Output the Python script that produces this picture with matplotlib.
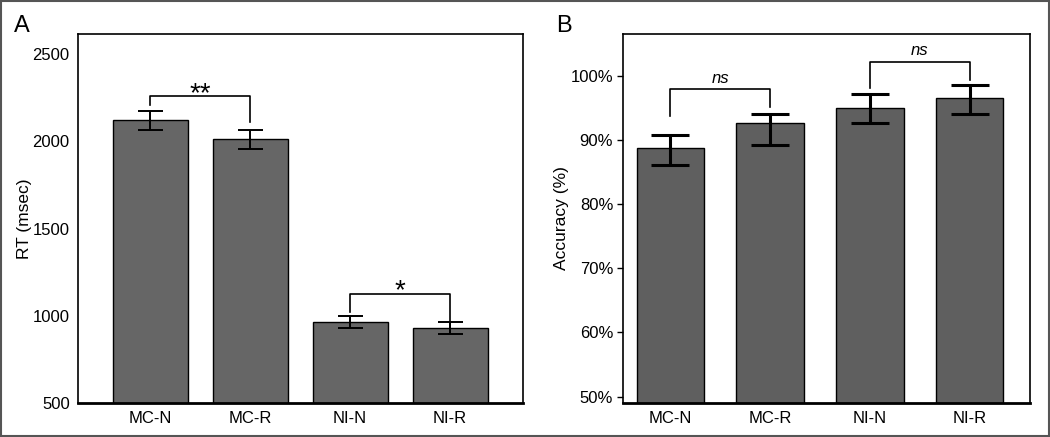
import numpy as np
import matplotlib.pyplot as plt
from matplotlib.patches import Rectangle

plt.rcParams['font.family'] = ['Liberation Sans', 'DejaVu Sans']

conds = ['MC-N', 'MC-R', 'NI-N', 'NI-R']

# panel A: reaction time
rt_mean = [2120, 2014, 962, 930]
rt_lo = [2065, 1958, 928, 895]
rt_hi = [2175, 2067, 998, 962]

# panel B: accuracy (%)
acc_mean = [88.8, 92.6, 95.0, 96.6]
acc_lo = [86.1, 89.2, 92.6, 94.1]
acc_hi = [90.8, 94.0, 97.1, 98.6]

# significance brackets: (i, j, height, left foot, right foot, label)
rt_sig = [(0, 1, 2257, 2209, 2108, '**'), (2, 3, 1126, 1019, 930, '*')]
acc_sig = [(0, 1, 97.9, 93.8, 95.1, 'ns'), (2, 3, 102.2, 98.1, 99.4, 'ns')]


def bracket(ax, sig, off, italic=False, fs=13):
    for i, j, h, yl, yr, lab in sig:
        ax.plot([i, i, j, j], [yl, h, h, yr], color='black', lw=1.2)
        ax.text((i + j) / 2, h + off, lab, ha='center', va='bottom',
                fontsize=fs, style='italic' if italic else 'normal')


fig = plt.figure(figsize=(10.5, 4.37), dpi=100)
fig.patches.append(Rectangle((0.001, 0.002), 0.998, 0.996, transform=fig.transFigure,
                             fill=False, edgecolor='#555555', lw=1.5))

x = np.arange(len(conds))

axA = fig.add_axes([0.0743, 0.0778, 0.4238, 0.8444])
axA.bar(x, rt_mean, width=0.75, color='#666666', edgecolor='black', lw=1.0, zorder=2)
yerr = [np.array(rt_mean) - np.array(rt_lo), np.array(rt_hi) - np.array(rt_mean)]
axA.errorbar(x, rt_mean, yerr=yerr, fmt='none', ecolor='black', elinewidth=1.4,
             capsize=9, capthick=1.4, zorder=3)
axA.set_xlim(-0.72, 3.73)
axA.set_ylim(507, 2615)
axA.set_yticks([500, 1000, 1500, 2000, 2500])
axA.set_xticks(x)
axA.set_xticklabels(conds)
axA.tick_params(axis='both', length=0, labelsize=12, pad=6)
axA.set_ylabel('RT (msec)', fontsize=12.5)
axA.yaxis.set_label_coords(-0.103, 0.5)
bracket(axA, rt_sig, -62, fs=20)
for s in axA.spines.values():
    s.set_linewidth(1.2)
axA.spines['bottom'].set_linewidth(2)
fig.text(0.013, 0.927, 'A', fontsize=17)

axB = fig.add_axes([0.5933, 0.0778, 0.3876, 0.8444])
axB.bar(x, acc_mean, width=0.68, color='#5f5f5f', edgecolor='black', lw=1.0, zorder=2)
yerr = [np.array(acc_mean) - np.array(acc_lo), np.array(acc_hi) - np.array(acc_mean)]
axB.errorbar(x, acc_mean, yerr=yerr, fmt='none', ecolor='black', elinewidth=2.2,
             capsize=13.5, capthick=2.2, zorder=3)
axB.set_xlim(-0.476, 3.606)
axB.set_ylim(49, 106.5)
axB.set_yticks([50, 60, 70, 80, 90, 100])
axB.set_yticklabels(['50%', '60%', '70%', '80%', '90%', '100%'])
axB.set_xticks(x)
axB.set_xticklabels(conds)
axB.tick_params(axis='y', length=4, width=1, labelsize=12, pad=3)
axB.tick_params(axis='x', length=0, labelsize=12, pad=6)
axB.set_ylabel('Accuracy (%)', fontsize=12.5)
axB.yaxis.set_label_coords(-0.133, 0.5)
bracket(axB, acc_sig, 0.5, italic=True, fs=12)
for s in axB.spines.values():
    s.set_linewidth(1.2)
axB.spines['bottom'].set_linewidth(2)
fig.text(0.53, 0.927, 'B', fontsize=17)

fig.savefig('out.png', dpi=100)
